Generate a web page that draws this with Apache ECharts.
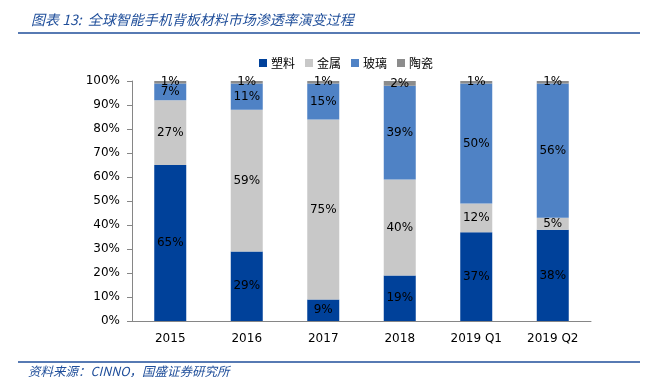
<!DOCTYPE html>
<html><head><meta charset="utf-8">
<script src="https://cdn.jsdelivr.net/npm/echarts@6/dist/echarts.min.js"></script>
<style>html,body{margin:0;padding:0;background:#fff}#c{width:657px;height:377px}</style>
</head><body><div id="c"></div>
<script>
const categories = ['2015','2016','2017','2018','2019 Q1','2019 Q2'];
const plastic = [65, 29, 9, 19, 37, 38];
const metal = [27, 59, 75, 40, 12, 5];
const glass = [7, 11, 15, 39, 50, 56];
const ceramic = [1, 1, 1, 2, 1, 1];
const seriesNames = ['塑料','金属','玻璃','陶瓷'];
const yTicks = [0,10,20,30,40,50,60,70,80,90,100];

const colors = ['#00419A','#C8C8C8','#4F82C5','#8C8C8C'];
const dataSets = [plastic, metal, glass, ceramic];
const chart = echarts.init(document.getElementById('c'));
const labelFont = {fontFamily:'DejaVu Sans', fontSize:12, color:'#000'};
chart.setOption({
  animation:false,
  title:{text:'图表 13:  全球智能手机背板材料市场渗透率演变过程', left:26, top:8,
    textStyle:{fontFamily:'Noto Sans CJK SC', fontSize:14, fontStyle:'italic', fontWeight:'normal', color:'#1F4E9A'}},
  graphic:[
    {type:'line', shape:{x1:18,y1:33,x2:640,y2:33}, style:{stroke:'#1F4E9A', lineWidth:1.5}},
    {type:'line', shape:{x1:18,y1:362,x2:640,y2:362}, style:{stroke:'#1F4E9A', lineWidth:1.5}},
    {type:'text', left:28, top:365, style:{text:'资料来源：CINNO，国盛证券研究所', fontFamily:'Noto Sans CJK SC', fontSize:12.5, fontStyle:'italic', fill:'#1F4E9A'}}
  ],
  legend:{top:52, left:254, itemWidth:8, itemHeight:8, itemGap:10, icon:'rect',
    textStyle:{fontFamily:'Noto Sans CJK SC', fontSize:12, color:'#000', padding:[0,0,0,-1]},
    data:seriesNames},
  grid:{left:132, right:66, top:81, bottom:56},
  xAxis:{type:'category', data:categories,
    axisLine:{lineStyle:{color:'#868686'}},
    axisTick:{inside:true, length:5, lineStyle:{color:'#868686'}},
    axisLabel:Object.assign({margin:12}, labelFont)},
  yAxis:{type:'value', min:0, max:100, interval:10,
    axisLine:{show:true, lineStyle:{color:'#868686'}},
    axisTick:{show:true, length:5, lineStyle:{color:'#868686'}},
    splitLine:{show:false},
    axisLabel:Object.assign({margin:12, formatter: v => yTicks.includes(v) ? v + '%' : ''}, labelFont)},
  series: seriesNames.map((n,i)=>({
    name:n, type:'bar', stack:'a', barWidth:32,
    itemStyle:{color:colors[i]},
    label:{show:true, position:'inside', formatter: p => p.value + '%', fontFamily:'DejaVu Sans', fontSize:12, color:'#000'},
    data:dataSets[i]
  }))
});
</script></body></html>
